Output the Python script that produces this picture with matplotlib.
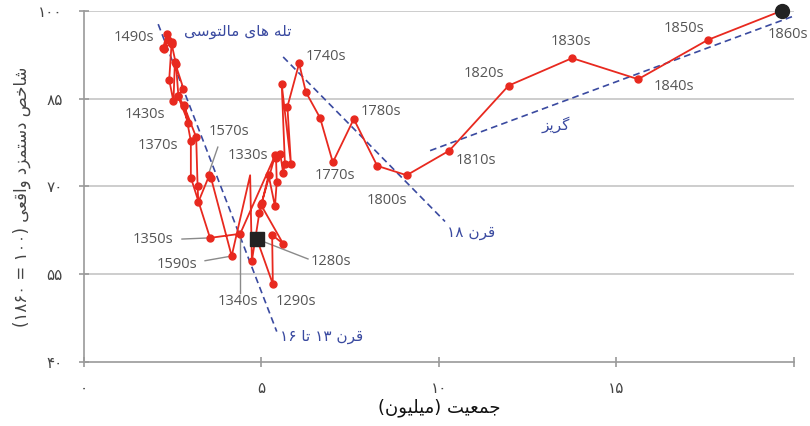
import re
import numpy as np
import matplotlib
matplotlib.use("Agg")
import matplotlib.pyplot as plt

# Daten: Bevölkerung (Mio.) und Reallohnindex (1860 = 100), je Jahrzehnt
decades = [
    "1280s", "1290s", "1300s", "1310s", "1320s", "1330s", "1340s", "1350s",
    "1360s", "1370s", "1380s", "1390s", "1400s", "1410s", "1420s", "1430s",
    "1440s", "1450s", "1460s", "1470s", "1480s", "1490s",
    "1500s", "1510s", "1520s", "1530s", "1540s", "1550s", "1560s", "1570s",
    "1580s", "1590s",
    "1600s", "1610s", "1620s", "1630s", "1640s", "1650s", "1660s", "1670s",
    "1680s", "1690s", "1700s", "1710s", "1720s", "1730s",
    "1740s", "1750s", "1760s", "1770s", "1780s", "1790s",
    "1800s", "1810s", "1820s", "1830s", "1840s", "1850s", "1860s",
]
population = [
    4.87, 5.32, 5.30, 5.61, 4.99, 5.39, 4.40, 3.55,
    3.01, 3.01, 2.82, 2.94, 2.64, 2.80, 2.56, 2.52,
    2.40, 2.47, 2.26, 2.37, 2.23, 2.33,
    2.47, 2.59, 2.66, 2.82, 3.16, 3.20, 3.22, 3.53,
    3.58, 4.16,
    4.68, 4.73, 4.94, 5.01, 5.20, 5.38, 5.43, 5.41,
    5.53, 5.61, 5.66, 5.57, 5.83, 5.73,
    6.06, 6.25, 6.65, 7.01, 7.60, 8.26,
    9.09, 10.29, 11.96, 13.75, 15.61, 17.57, 19.66,
]
real_wage = [
    61.0, 53.3, 61.7, 60.2, 66.8, 75.4, 61.9, 61.2,
    71.5, 77.7, 83.9, 80.9, 85.5, 86.7, 91.2, 84.5,
    88.2, 94.6, 93.5, 95.0, 93.6, 96.0,
    94.3, 90.9, 85.4, 83.7, 78.4, 70.1, 67.3, 71.9,
    71.4, 58.1,
    71.9, 57.3, 65.5, 67.2, 71.9, 66.6, 70.8, 74.8,
    75.5, 72.3, 73.9, 87.4, 73.8, 83.6,
    91.0, 86.1, 81.7, 74.1, 81.5, 73.5,
    71.9, 76.1, 87.2, 91.9, 88.3, 95.0, 100.0,
]
no_marker = ["1600s"]  # im Original ohne Punkt

# gestrichelte Trendlinien
trap_x, trap_y = [2.09, 5.43], [97.7, 45.2]
c18_x, c18_y = [5.61, 10.17], [92.1, 64.0]
escape_x, escape_y = [9.75, 20.0], [76.1, 99.1]

x_ticks = [0, 5, 10, 15, 20]
y_ticks = [40, 55, 70, 85, 100]

RED = "#e8291f"
BLUE = "#3a4aa0"
GRAY_TXT = "#555555"
GRID = "#c9c9c9"

# --- einfache persische Buchstabenformen (matplotlib kann kein Arabic shaping)
FORMS = {
    "ا": ("\uFE8D", "\uFE8E", None, None),
    "د": ("\uFEA9", "\uFEAA", None, None),
    "ر": ("\uFEAD", "\uFEAE", None, None),
    "ز": ("\uFEAF", "\uFEB0", None, None),
    "و": ("\uFEED", "\uFEEE", None, None),
    "ت": ("\uFE95", "\uFE96", "\uFE97", "\uFE98"),
    "ج": ("\uFE9D", "\uFE9E", "\uFE9F", "\uFEA0"),
    "خ": ("\uFEA5", "\uFEA6", "\uFEA7", "\uFEA8"),
    "س": ("\uFEB1", "\uFEB2", "\uFEB3", "\uFEB4"),
    "ش": ("\uFEB5", "\uFEB6", "\uFEB7", "\uFEB8"),
    "ص": ("\uFEB9", "\uFEBA", "\uFEBB", "\uFEBC"),
    "ع": ("\uFEC9", "\uFECA", "\uFECB", "\uFECC"),
    "ق": ("\uFED5", "\uFED6", "\uFED7", "\uFED8"),
    "ل": ("\uFEDD", "\uFEDE", "\uFEDF", "\uFEE0"),
    "م": ("\uFEE1", "\uFEE2", "\uFEE3", "\uFEE4"),
    "ن": ("\uFEE5", "\uFEE6", "\uFEE7", "\uFEE8"),
    "ه": ("\uFEE9", "\uFEEA", "\uFEEB", "\uFEEC"),
    "ی": ("\uFBFC", "\uFBFD", "\uFBFE", "\uFBFF"),
    "گ": ("\uFB92", "\uFB93", "\uFB94", "\uFB95"),
}


def fa(text):
    out = []
    for i, ch in enumerate(text):
        if ch not in FORMS:
            out.append(ch)
            continue
        prev = text[i - 1] if i > 0 else ""
        nxt = text[i + 1] if i + 1 < len(text) else ""
        join_prev = prev in FORMS and FORMS[prev][2] is not None
        join_next = FORMS[ch][2] is not None and nxt in FORMS
        iso, fin, ini, med = FORMS[ch]
        if join_prev and join_next:
            out.append(med)
        elif join_prev:
            out.append(fin)
        elif join_next:
            out.append(ini)
        else:
            out.append(iso)
    shaped = "".join(out)
    # rechts-nach-links: umdrehen, Zahlen bleiben LTR, Klammern spiegeln
    tokens = re.findall(r"[0-9\u06F0-\u06F9]+|.", shaped)
    mirror = {"(": ")", ")": "("}
    return "".join(mirror.get(t, t) for t in reversed(tokens))


def fa_num(n):
    return str(n).translate(str.maketrans("0123456789", "۰۱۲۳۴۵۶۷۸۹"))


plt.rcParams["font.family"] = ["DejaVu Sans"]

fig = plt.figure(figsize=(8.1, 4.26), dpi=100)
ax = fig.add_axes([0.1037, 0.1502, 0.8765, 0.8247])
ax.set_xlim(0, 20)
ax.set_ylim(40, 100)

for y in y_ticks[1:]:
    ax.axhline(y, color=GRID, lw=1.3, zorder=0)

ax.plot(trap_x, trap_y, color=BLUE, lw=1.2, dashes=(4, 2.5), zorder=2)
ax.plot(c18_x, c18_y, color=BLUE, lw=1.2, dashes=(4, 2.5), zorder=2)
ax.plot(escape_x, escape_y, color=BLUE, lw=1.2, dashes=(4, 2.5), zorder=2)

marks = [i for i, d in enumerate(decades[1:-1], start=1) if d not in no_marker]
ax.plot(population, real_wage, color=RED, lw=1.3, marker="o", ms=5,
        markevery=marks, zorder=3, clip_on=False)
ax.plot(population[0], real_wage[0], marker="s", ms=10, color="#222222",
        ls="none", zorder=4)
ax.plot(population[-1], real_wage[-1], marker="o", ms=10, color="#222222",
        ls="none", zorder=4, clip_on=False)

# Beschriftungen der Jahrzehnte: (Text, Position, ha, Anfang der Hinweislinie)
labels = [
    ("1490s", (1.97, 95.5), "right", None),
    ("1430s", (2.28, 82.2), "right", None),
    ("1370s", (2.65, 76.9), "right", None),
    ("1330s", (5.18, 75.2), "right", None),
    ("1570s", (3.52, 79.3), "left", (3.77, 76.7)),
    ("1350s", (2.51, 61.0), "right", (2.76, 61.0)),
    ("1590s", (3.18, 56.7), "right", (3.41, 57.3)),
    ("1340s", (4.34, 50.4), "center", (4.40, 51.8)),
    ("1290s", (5.41, 50.4), "left", None),
    ("1280s", (6.39, 57.2), "left", (6.31, 57.6)),
    ("1740s", (6.25, 92.1), "left", None),
    ("1780s", (7.80, 82.7), "left", None),
    ("1770s", (6.51, 71.8), "left", None),
    ("1800s", (7.97, 67.5), "left", None),
    ("1810s", (10.48, 74.5), "left", None),
    ("1820s", (10.70, 89.2), "left", None),
    ("1830s", (13.15, 94.7), "left", None),
    ("1840s", (16.06, 87.0), "left", None),
    ("1850s", (16.34, 96.9), "left", None),
    ("1860s", (19.27, 96.0), "left", None),
]
for name, pos, ha, lead in labels:
    i = decades.index(name)
    ax.text(pos[0], pos[1], name, ha=ha, va="center", fontsize=10.5,
            color=GRAY_TXT, family="Open Sans", zorder=5)
    if lead is not None:
        end_y = real_wage[i] + (0.6 if name == "1570s" else 0)
        ax.plot([lead[0], population[i]], [lead[1], end_y],
                color="#8a8a8a", lw=1, zorder=2)

ax.text(4.32, 96.4, fa("تله های مالتوسی"), color=BLUE, fontsize=11,
        ha="center", va="center")
ax.text(10.90, 62.2, fa("قرن ۱۸"), color=BLUE, fontsize=11,
        ha="center", va="center")
ax.text(6.70, 44.4, fa("قرن ۱۳ تا ۱۶"), color=BLUE, fontsize=11,
        ha="center", va="center")
ax.text(13.28, 80.5, fa("گریز"), color=BLUE, fontsize=11,
        ha="center", va="center")

for side in ["top", "right"]:
    ax.spines[side].set_visible(False)
for side in ["left", "bottom"]:
    ax.spines[side].set_color("#9a9a9a")
    ax.spines[side].set_linewidth(1.2)

ax.set_xticks(x_ticks)
ax.set_xticklabels([fa_num(v) if v < 20 else "" for v in x_ticks])
ax.set_yticks(y_ticks)
ax.set_yticklabels([fa_num(v) for v in y_ticks])
ax.tick_params(axis="both", colors="#9a9a9a", labelcolor="#444444",
               labelsize=11, length=7, width=1.2, direction="inout")
ax.tick_params(axis="x", pad=10)
ax.tick_params(axis="y", pad=12)

ax.set_xlabel(fa("جمعیت (میلیون)"), fontsize=13, color="#111111",
              va="center")
ax.xaxis.set_label_coords(0.5, -0.131)
ax.set_ylabel(fa("شاخص دستمزد واقعی (۱۰۰ = ۱۸۶۰)"), fontsize=12,
              color="#444444", va="center")
ax.yaxis.set_label_coords(-0.087, 0.47)

fig.savefig("out.png", dpi=100)
